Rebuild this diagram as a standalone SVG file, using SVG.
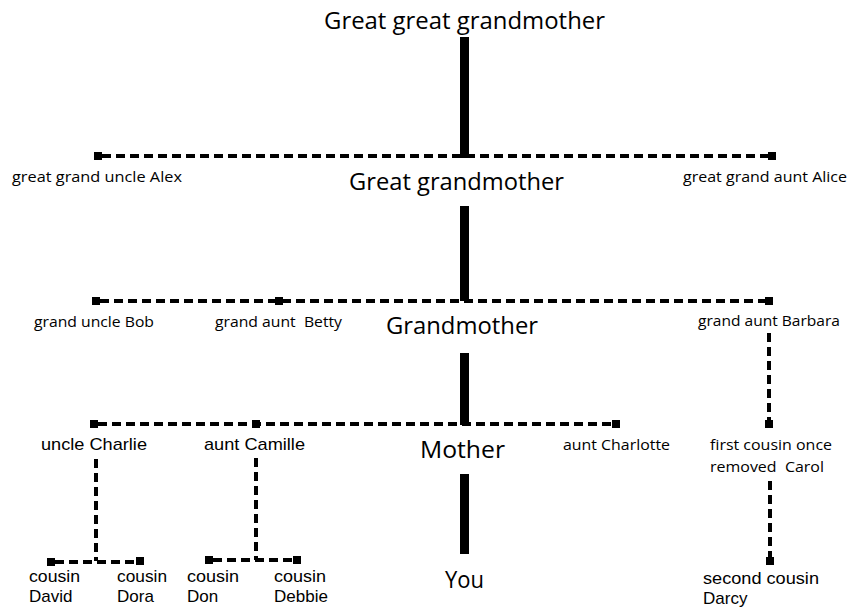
<svg xmlns="http://www.w3.org/2000/svg" width="861" height="611" viewBox="0 0 861 611">
<style>
.bg{fill:#fff}
.bar{fill:#000}
.dash{stroke:#000;stroke-width:4;stroke-dasharray:9 5;fill:none}
.sq{fill:#000}
text{white-space:pre}
.big{font-family:"Open Sans","Liberation Sans",sans-serif;font-size:23px;fill:#000}
.cal{font-family:"Open Sans","Liberation Sans",sans-serif;font-size:15px;fill:#000}
.ari{font-family:"Liberation Sans",Arial,sans-serif;font-size:17px;fill:#000}
</style>
<rect class="bg" x="0" y="0" width="861" height="611"/>
<g id="connectors">
  <rect class="bar" x="460" y="37" width="9" height="121"/>
  <rect class="bar" x="460" y="206" width="9" height="95"/>
  <rect class="bar" x="460" y="353" width="9" height="72"/>
  <rect class="bar" x="460" y="474" width="9" height="80"/>
  <line class="dash" x1="102" y1="156" x2="768" y2="156"/>
  <line class="dash" x1="100" y1="301" x2="765" y2="301"/>
  <line class="dash" x1="769" y1="333" x2="769" y2="420"/>
  <line class="dash" x1="98" y1="424" x2="612" y2="424"/>
  <line class="dash" x1="96" y1="459" x2="96" y2="561"/>
  <line class="dash" x1="55" y1="562" x2="136" y2="562"/>
  <line class="dash" x1="256" y1="458" x2="256" y2="560"/>
  <line class="dash" x1="213" y1="560" x2="293" y2="560"/>
  <line class="dash" x1="770" y1="481" x2="770" y2="557"/>
</g>
<g id="ggg">
  <text class="big" x="324" y="29" font-size="24" textLength="281" lengthAdjust="spacingAndGlyphs">Great great grandmother</text>
</g>
<g id="alex">
  <rect class="sq" x="94" y="152" width="8" height="8"/>
  <text class="cal" x="12" y="182" textLength="170" lengthAdjust="spacingAndGlyphs">great grand uncle Alex</text>
</g>
<g id="gg">
  <text class="big" x="349" y="190" font-size="24" textLength="215" lengthAdjust="spacingAndGlyphs">Great grandmother</text>
</g>
<g id="alice">
  <rect class="sq" x="768" y="152" width="8" height="8"/>
  <text class="cal" x="683" y="182" textLength="164" lengthAdjust="spacingAndGlyphs">great grand aunt Alice</text>
</g>
<g id="bob">
  <rect class="sq" x="92" y="297" width="8" height="8"/>
  <text class="cal" x="34" y="327" textLength="120" lengthAdjust="spacingAndGlyphs">grand uncle Bob</text>
</g>
<g id="betty">
  <rect class="sq" x="275" y="297" width="8" height="8"/>
  <text class="cal" x="215" y="327" textLength="127" lengthAdjust="spacingAndGlyphs">grand aunt  Betty</text>
</g>
<g id="grandmother">
  <text class="big" x="386" y="334" textLength="152" lengthAdjust="spacingAndGlyphs">Grandmother</text>
</g>
<g id="barbara">
  <rect class="sq" x="765" y="297" width="8" height="8"/>
  <text class="cal" x="698" y="326" textLength="142" lengthAdjust="spacingAndGlyphs">grand aunt Barbara</text>
</g>
<g id="charlie">
  <rect class="sq" x="90" y="420" width="8" height="8"/>
  <text class="ari" x="41" y="450" textLength="106" lengthAdjust="spacingAndGlyphs">uncle Charlie</text>
</g>
<g id="camille">
  <rect class="sq" x="252" y="420" width="8" height="8"/>
  <text class="ari" x="204" y="450" textLength="101" lengthAdjust="spacingAndGlyphs">aunt Camille</text>
</g>
<g id="mother">
  <text class="big" x="420" y="458" textLength="85" lengthAdjust="spacingAndGlyphs">Mother</text>
</g>
<g id="charlotte">
  <rect class="sq" x="612" y="420" width="8" height="8"/>
  <text class="cal" x="563" y="450" textLength="107" lengthAdjust="spacingAndGlyphs">aunt Charlotte</text>
</g>
<g id="carol">
  <rect class="sq" x="765" y="420" width="8" height="8"/>
  <text class="cal" x="710" y="450" textLength="122" lengthAdjust="spacingAndGlyphs">first cousin once</text>
  <text class="cal" x="710" y="472" textLength="114" lengthAdjust="spacingAndGlyphs">removed  Carol</text>
</g>
<g id="you">
  <text class="big" x="445" y="588" textLength="39" lengthAdjust="spacingAndGlyphs">You</text>
</g>
<g id="david">
  <rect class="sq" x="47" y="558" width="8" height="8"/>
  <text class="ari" x="29" y="582" textLength="51" lengthAdjust="spacingAndGlyphs">cousin</text>
  <text class="ari" x="29" y="602">David</text>
</g>
<g id="dora">
  <rect class="sq" x="136" y="557" width="8" height="8"/>
  <text class="ari" x="117" y="582" textLength="50" lengthAdjust="spacingAndGlyphs">cousin</text>
  <text class="ari" x="117" y="602">Dora</text>
</g>
<g id="don">
  <rect class="sq" x="205" y="556" width="8" height="8"/>
  <text class="ari" x="187" y="582" textLength="52" lengthAdjust="spacingAndGlyphs">cousin</text>
  <text class="ari" x="187" y="602">Don</text>
</g>
<g id="debbie">
  <rect class="sq" x="293" y="556" width="8" height="8"/>
  <text class="ari" x="274" y="582" textLength="52" lengthAdjust="spacingAndGlyphs">cousin</text>
  <text class="ari" x="274" y="602">Debbie</text>
</g>
<g id="darcy">
  <rect class="sq" x="766" y="557" width="8" height="8"/>
  <text class="ari" x="703" y="584" textLength="116" lengthAdjust="spacingAndGlyphs">second cousin</text>
  <text class="ari" x="703" y="604">Darcy</text>
</g>
</svg>
